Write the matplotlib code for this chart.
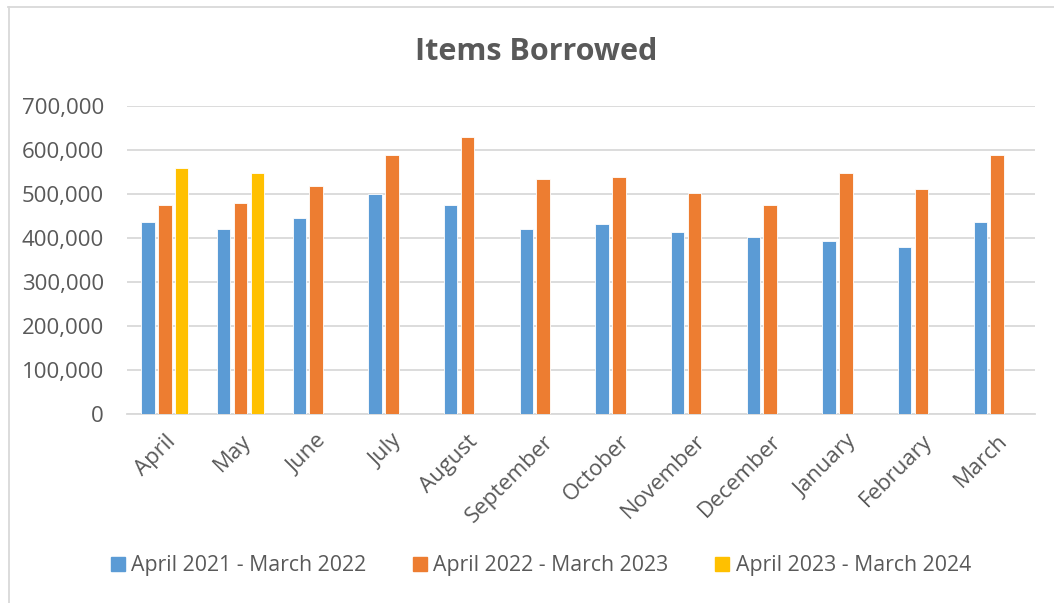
import matplotlib
matplotlib.use("Agg")
import matplotlib.pyplot as plt
import numpy as np
from matplotlib.ticker import FuncFormatter
from matplotlib.lines import Line2D

months = ["April", "May", "June", "July", "August", "September", "October",
          "November", "December", "January", "February", "March"]
series_names = ["April 2021 - March 2022", "April 2022 - March 2023", "April 2023 - March 2024"]
s2021 = [436000, 420000, 446000, 500000, 474000, 420000, 431000, 413000, 403000, 393000, 379000, 437000]
s2022 = [474000, 478000, 518000, 589000, 629000, 534000, 538000, 501000, 474000, 547000, 512000, 588000]
s2023 = [558000, 547000]
colors = ["#5B9BD5", "#ED7D31", "#FFC000"]
yticks = [0, 100000, 200000, 300000, 400000, 500000, 600000, 700000]

plt.rcParams['font.family'] = ['Open Sans', 'DejaVu Sans']
txt = "#595959"

W, H = 1054, 603
fig = plt.figure(figsize=(W/100, H/100), dpi=100)
ax = fig.add_axes([127/W, 1-414/H, 908/W, (414-105.7)/H])

x = np.arange(len(months))
bw = 0.178
step = 0.222
for i, (vals, c) in enumerate(zip([s2021, s2022, s2023], colors)):
    xi = x[:len(vals)] + (i-1)*step
    ax.bar(xi, vals, width=bw, color=c, edgecolor="white", linewidth=0.6, zorder=3)

ax.set_xlim(-0.5, len(months)-0.5)
ax.set_ylim(0, 700000)
ax.set_yticks(yticks)
ax.yaxis.set_major_formatter(FuncFormatter(lambda v, p: f"{int(v):,}"))
ax.grid(axis='y', color="#d9d9d9", linewidth=1.3, zorder=0)
for s in ["top", "right", "left"]:
    ax.spines[s].set_visible(False)
ax.spines["bottom"].set_color("#d9d9d9")
ax.spines["bottom"].set_linewidth(1.3)
ax.tick_params(axis='both', length=0, colors=txt)
ax.tick_params(axis='y', pad=16.5, labelsize=16)
ax.set_xticks(x)
ax.set_xticklabels(months, rotation=45, ha='right', rotation_mode='anchor')
ax.tick_params(axis='x', pad=12, labelsize=16)

fig.text(536/W, 1-52/H, "Items Borrowed", ha='center', va='center',
         fontsize=22, fontweight='bold', color=txt)

handles = [plt.Rectangle((0, 0), 1, 1, color=c) for c in colors]
leg = fig.legend(handles, series_names, loc='center', bbox_to_anchor=(541/W, 1-566/H),
                 ncol=3, frameon=False, fontsize=15.3, handlelength=0.65, handleheight=0.65,
                 handletextpad=0.3, columnspacing=2.2, labelcolor=txt)

# chart border (left & top visible)
fig.add_artist(Line2D([8.5/W, 8.5/W], [0, 1-7/H], color="#d9d9d9", linewidth=1.3, transform=fig.transFigure))
fig.add_artist(Line2D([8/W, 1], [1-7/H, 1-7/H], color="#d9d9d9", linewidth=1.3, transform=fig.transFigure))

fig.savefig("out.png", dpi=100, facecolor="white")
